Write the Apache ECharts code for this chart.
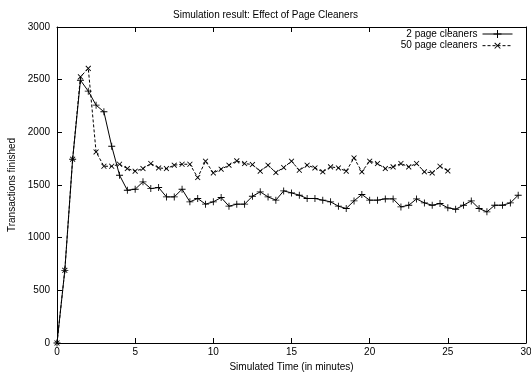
<!DOCTYPE html>
<html>
<head>
<meta charset="utf-8">
<script src="https://cdn.jsdelivr.net/npm/echarts@6/dist/echarts.min.js"></script>
<style>
html,body{margin:0;padding:0;background:#fff;}
#chart{width:531px;height:376px;}
</style>
</head>
<body>
<div id="chart"></div>
<script>
// Simulated time (minutes)
var times = [0,0.5,1,1.5,2,2.5,3,3.5,4,4.5,5,5.5,6,6.5,7,7.5,8,8.5,9,9.5,
  10,10.5,11,11.5,12,12.5,13,13.5,14,14.5,15,15.5,16,16.5,17,17.5,18,18.5,19,19.5,
  20,20.5,21,21.5,22,22.5,23,23.5,24,24.5,25,25.5,26,26.5,27,27.5,28,28.5,29,29.5];

// Transactions finished, 2 page cleaners (0 .. 29.5 min)
var cleaners2 = [0,690,1745,2495,2391,2258,2195,1868,1593,1450,
  1460,1530,1466,1476,1387,1387,1460,1340,1372,1318,
  1340,1381,1299,1318,1318,1393,1435,1387,1356,1444,
  1425,1403,1372,1372,1356,1340,1299,1277,1349,1410,
  1356,1356,1368,1368,1292,1308,1368,1330,1308,1324,
  1283,1270,1308,1349,1277,1245,1308,1308,1330,1403];

// Transactions finished, 50 page cleaners (0 .. 25 min)
var cleaners50 = [0,690,1745,2527,2607,1814,1678,1678,1697,1656,
  1631,1656,1704,1662,1656,1688,1697,1697,1571,1726,
  1615,1650,1688,1729,1704,1694,1631,1688,1618,1666,
  1726,1640,1688,1662,1625,1672,1662,1631,1757,1625,
  1726,1704,1656,1672,1704,1672,1704,1625,1615,1678,1634];

var seriesNames = ['2 page cleaners', '50 page cleaners'];
var titleText = 'Simulation result: Effect of Page Cleaners';
var xName = 'Simulated Time (in minutes)';
var yName = 'Transactions finished';

function pairs(xs, ys) {
  var out = [];
  for (var i = 0; i < ys.length; i++) out.push([xs[i], ys[i]]);
  return out;
}

var plusPath = 'path://M-0.5,-4h1v3.5h3.5v1h-3.5v3.5h-1v-3.5h-3.5v-1h3.5z';
var FONT = 'Liberation Sans';

var chart = echarts.init(document.getElementById('chart'), null, {renderer: 'canvas'});

function axisCommon(showLabels) {
  return {
    axisLine: {show: true, onZero: false, lineStyle: {color: '#000', width: 1}},
    axisTick: {show: true, inside: true, length: 5, lineStyle: {color: '#000', width: 1}},
    axisLabel: {show: showLabels, color: '#000', fontSize: 10, fontFamily: FONT,
      formatter: function (v) { return String(v); }},
    splitLine: {show: false}
  };
}

var xBottom = Object.assign(axisCommon(true), {
  type: 'value', position: 'bottom', min: 0, max: 30, interval: 5,
  name: xName, nameLocation: 'middle', nameGap: 18,
  nameTextStyle: {color: '#000', fontSize: 10, fontFamily: FONT}
});
xBottom.axisLabel.margin = 4;
var xTop = Object.assign(axisCommon(false), {
  type: 'value', position: 'top', min: 0, max: 30, interval: 5
});
var yLeft = Object.assign(axisCommon(true), {
  type: 'value', position: 'left', min: 0, max: 3000, interval: 500,
  name: yName, nameLocation: 'middle', nameGap: 37,
  nameTextStyle: {color: '#000', fontSize: 10, fontFamily: FONT}
});
yLeft.axisLabel.margin = 7;
var yRight = Object.assign(axisCommon(false), {
  type: 'value', position: 'right', min: 0, max: 3000, interval: 500
});

chart.setOption({
  animation: false,
  backgroundColor: '#fff',
  textStyle: {fontFamily: FONT, color: '#000'},
  title: {
    text: titleText, left: 'center', top: 5,
    textStyle: {fontSize: 10, fontWeight: 'normal', color: '#000', fontFamily: FONT}
  },
  legend: {
    orient: 'vertical', right: 18, top: 29, align: 'right',
    padding: 0, itemGap: 1, itemWidth: 30, itemHeight: 10,
    textStyle: {fontSize: 10, color: '#000', fontFamily: FONT},
    lineStyle: {width: 1},
    data: seriesNames
  },
  grid: {left: 57, right: 5, top: 27, bottom: 33, containLabel: false, outerBoundsMode: 'none'},
  xAxis: [xBottom, xTop],
  yAxis: [yLeft, yRight],
  series: [
    {
      name: seriesNames[0], type: 'line', xAxisIndex: 0, yAxisIndex: 0,
      data: pairs(times, cleaners2),
      symbol: plusPath, symbolSize: 7, showAllSymbol: true,
      lineStyle: {color: '#000', width: 1, type: 'solid'},
      itemStyle: {color: '#000'}
    },
    {
      name: seriesNames[1], type: 'line', xAxisIndex: 0, yAxisIndex: 0,
      data: pairs(times, cleaners50),
      symbol: plusPath, symbolSize: 7, symbolRotate: 45, showAllSymbol: true,
      lineStyle: {color: '#000', width: 1, type: [3, 2]},
      itemStyle: {color: '#000'}
    }
  ]
});
</script>
</body>
</html>
